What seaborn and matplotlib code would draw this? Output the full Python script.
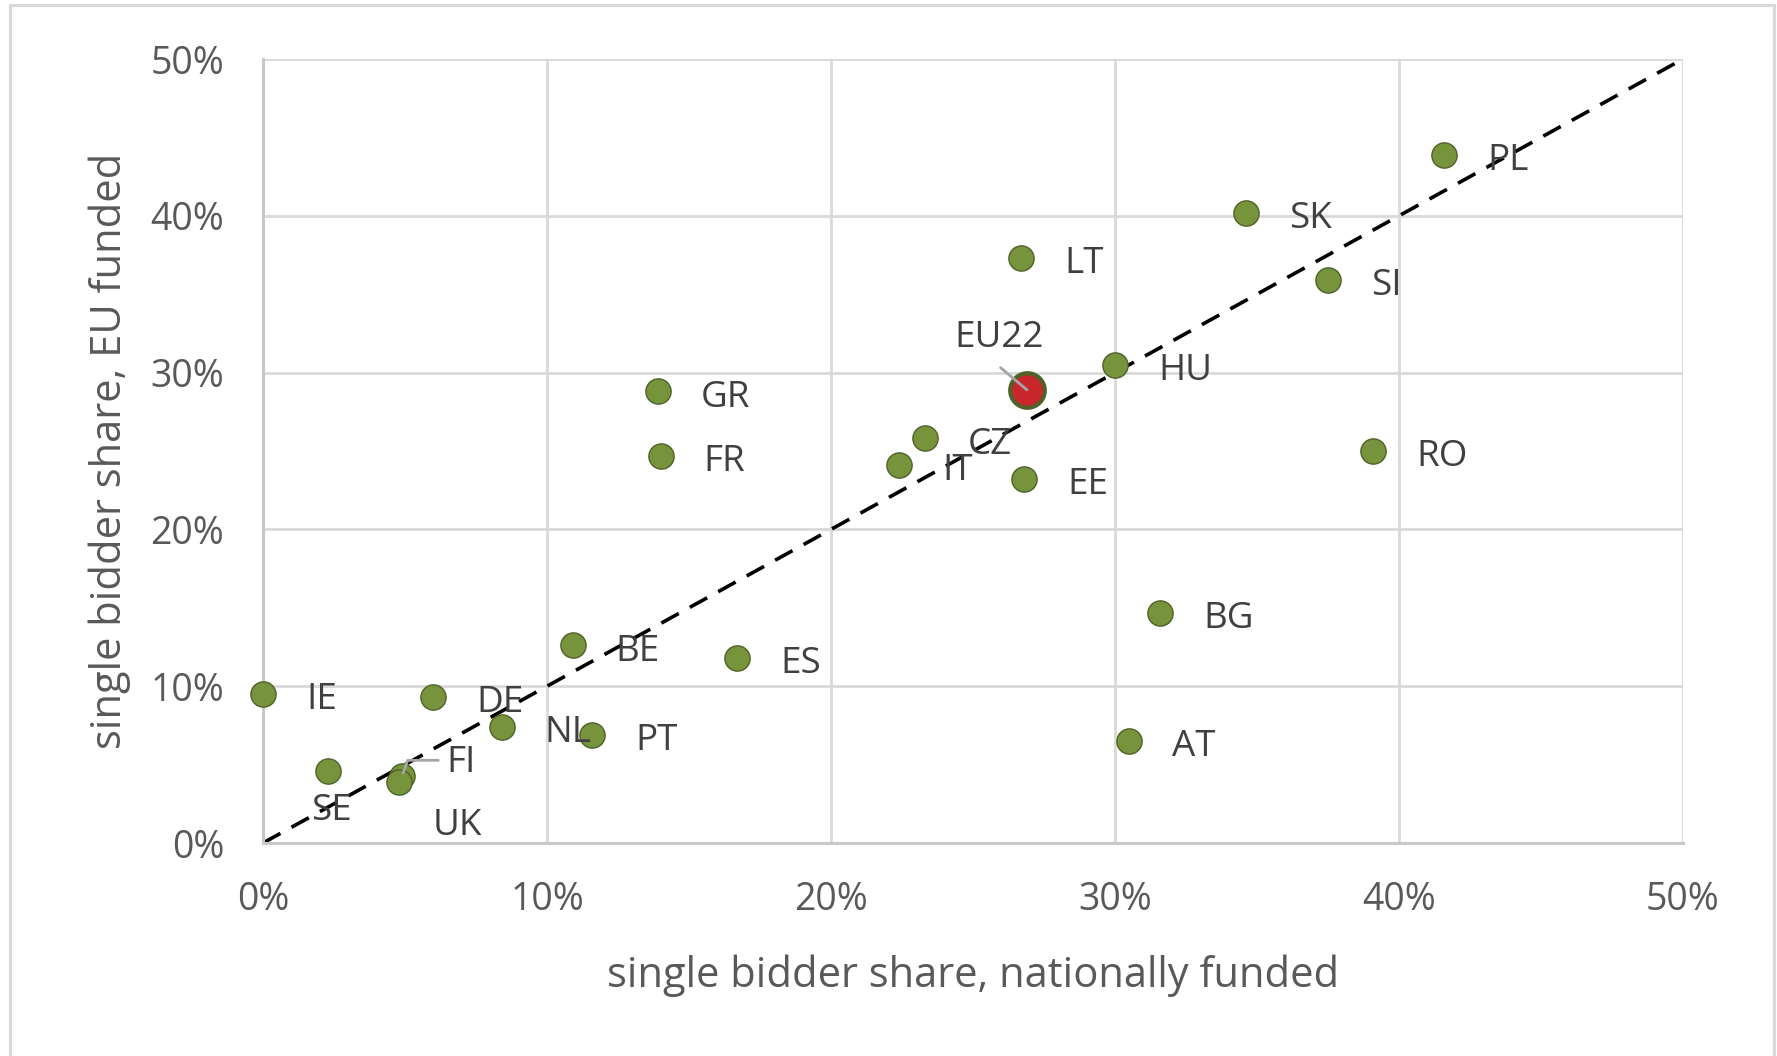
import matplotlib
matplotlib.use("Agg")
import matplotlib.pyplot as plt
from matplotlib.patches import Rectangle
from matplotlib.ticker import PercentFormatter
import seaborn as sns
import pandas as pd

# Data (share of single-bidder contracts, %)
countries = ["PL", "SK", "LT", "SI", "HU", "GR", "FR", "CZ", "IT", "EE", "RO",
             "BG", "BE", "ES", "IE", "DE", "NL", "PT", "AT", "SE", "FI", "UK"]
national = [41.6, 34.6, 26.7, 37.5, 30.0, 13.9, 14.0, 23.3, 22.4, 26.8, 39.1,
            31.6, 10.9, 16.7, 0.0, 6.0, 8.4, 11.6, 30.5, 2.3, 4.9, 4.8]
eu_funded = [43.9, 40.2, 37.3, 35.9, 30.5, 28.8, 24.7, 25.8, 24.1, 23.2, 25.0,
             14.7, 12.6, 11.8, 9.5, 9.3, 7.4, 6.9, 6.5, 4.6, 4.3, 3.9]

eu22_name = "EU22"
eu22_national = 26.9
eu22_eu = 28.9

df = pd.DataFrame({"country": countries, "national": national, "eu": eu_funded})

# label placement (offset points), default = right of marker
label_offsets = {"SE": (2, -29, "center"), "UK": (42, -32, "center"),
                 "FI": (32, 9, "left")}

GREEN = "#77933C"
GREEN_EDGE = "#4F6228"
RED = "#C9272B"
TEXT = "#595959"

sns.set_style("white")
plt.rcParams["font.family"] = ["Open Sans", "DejaVu Sans"]

fig = plt.figure(figsize=(17.77, 10.56), dpi=100)
ax = fig.add_axes([263 / 1777, 1 - 843 / 1056, 1420 / 1777, 784 / 1056])

# diagonal reference line
ax.plot([0, 50], [0, 50], color="black", lw=2.6, ls=(0, (5.5, 3.5)), zorder=2)

sns.scatterplot(data=df, x="national", y="eu", s=330, color=GREEN,
                edgecolor=GREEN_EDGE, linewidth=1.0, ax=ax, zorder=3,
                clip_on=False, legend=False)
ax.scatter([eu22_national], [eu22_eu], s=620, color=RED, edgecolor=GREEN_EDGE,
           linewidth=3, zorder=4)

for c, xv, yv in zip(countries, national, eu_funded):
    dx, dy, ha = label_offsets.get(c, (31, -4.5, "left"))
    ax.annotate(c, (xv, yv), xytext=(dx, dy), textcoords="offset points",
                ha=ha, va="center", fontsize=26.5, color="#404040", zorder=5)

# FI leader line
ax.annotate("", (national[countries.index("FI")], eu_funded[countries.index("FI")]),
            xytext=(26, 11), textcoords="offset points",
            arrowprops=dict(arrowstyle="-", color="#A6A6A6", lw=2.0,
                            connectionstyle="angle,angleA=0,angleB=70,rad=0",
                            shrinkA=0, shrinkB=2), zorder=5)

# EU22 label with leader line
ax.annotate(eu22_name, (eu22_national, eu22_eu), xytext=(-20, 37),
            textcoords="offset points", ha="center", va="center",
            fontsize=26.5, color="#404040", zorder=5)
ax.annotate("", (eu22_national, eu22_eu), xytext=(-19, 16),
            textcoords="offset points",
            arrowprops=dict(arrowstyle="-", color="#A6A6A6", lw=2.0,
                            shrinkA=0, shrinkB=0), zorder=5)

ax.set_xlim(0, 50)
ax.set_ylim(0, 50)
ax.set_xticks(range(0, 51, 10))
ax.set_yticks(range(0, 51, 10))
ax.xaxis.set_major_formatter(PercentFormatter(decimals=0))
ax.yaxis.set_major_formatter(PercentFormatter(decimals=0))
ax.grid(True, color="#D9D9D9", lw=2.0)
ax.set_axisbelow(True)
for side in ["top", "right"]:
    ax.spines[side].set_visible(False)
for side in ["left", "bottom"]:
    ax.spines[side].set_color("#C8C8C8")
    ax.spines[side].set_linewidth(2.2)
ax.tick_params(axis="both", length=0, labelsize=27, labelcolor=TEXT)
ax.tick_params(axis="x", pad=27)
ax.tick_params(axis="y", pad=28)

ax.set_xlabel("single bidder share, nationally funded", fontsize=30,
              color=TEXT, labelpad=26)
ax.set_ylabel("single bidder share, EU funded", fontsize=30, color=TEXT,
              labelpad=14)

# chart-area frame
fig.patches.append(Rectangle((10 / 1777, -0.02), 1764 / 1777, 1.02 - 5 / 1056,
                             transform=fig.transFigure, fill=False,
                             edgecolor="#D9D9D9", lw=2.2))

fig.savefig("out.png", dpi=100)
